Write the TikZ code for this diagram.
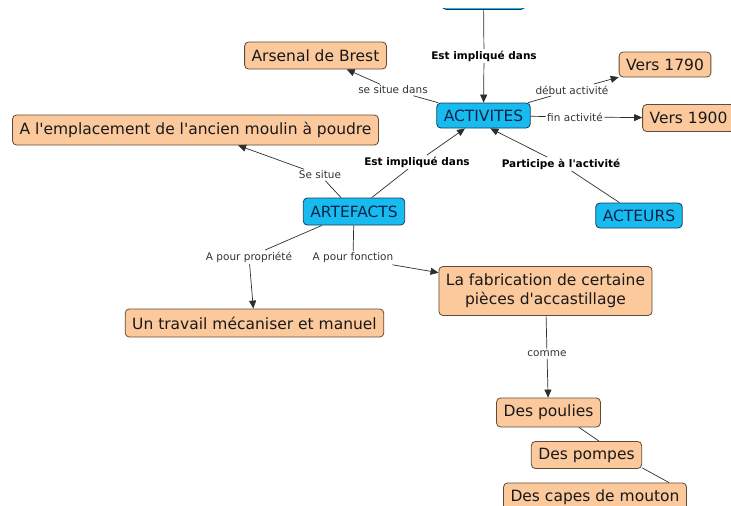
\documentclass[tikz,border=0pt]{standalone}
\usepackage{fontspec}
\setmainfont{DejaVu Sans}
\usetikzlibrary{arrows.meta, positioning}
\definecolor{peach}{RGB}{252,201,156}
\definecolor{peachedge}{RGB}{95,75,55}
\definecolor{sky}{RGB}{24,187,240}
\definecolor{skyedge}{RGB}{20,60,90}
\definecolor{navy}{RGB}{10,35,70}
\definecolor{linkgray}{RGB}{45,45,45}
\newcommand{\apos}{\textquotesingle}

\begin{document}
\begin{tikzpicture}[x=1pt, y=-1pt,
		  % Define the style of the concept boxes
		  concept/.style={rectangle, rounded corners=4pt, draw=peachedge, fill=peach, line width=0.8pt, inner xsep=7pt, minimum height=27pt, font=\fontsize{15.5}{19}\selectfont, text=black!90},
		  % Define the style of the main topics
		  topic/.style={concept, draw=skyedge, fill=sky, text=navy},
		  % Define the style of the link labels
		  link/.style={inner sep=1.5pt, font=\fontsize{10.5}{12}\selectfont, text=black!80},
		  boldlink/.style={link, font=\fontsize{10.5}{12}\selectfont\bfseries, text=black},
		  % Define the style of the connectors
		  connector/.style={line width=0.7pt, draw=linkgray},
		  arrow/.style={connector, -{Triangle[length=8pt,width=7pt]}}
		  ]
		  \useasboundingbox (0,0) rectangle (731,506);
		  \clip (0,0) rectangle (731,506);

		  % Concept cut off by the top edge
		  \begin{scope}
		    \clip (0,8) rectangle (731,40);
		    \node[topic, minimum width=83pt, minimum height=26pt, anchor=south] (upper) at (483.5,9.8) {};
		  \end{scope}

		  % Concept nodes
		  \node[concept] (arsenal) at (315.5,55.5) {Arsenal de Brest};
		  \node[topic, minimum height=25pt] (activites) at (483.5,115.5) {ACTIVITES};
		  \node[concept, minimum height=25pt] (v1790) at (665,64.5) {Vers 1790};
		  \node[concept] (v1900) at (688.5,118) {Vers 1900};
		  \node[concept, minimum height=30pt] (moulin) at (195.5,130) {A l\apos emplacement de l\apos ancien moulin à poudre};
		  \node[topic] (artefacts) at (354,211.5) {ARTEFACTS};
		  \node[topic, minimum height=25pt] (acteurs) at (639,215.5) {ACTEURS};
		  \node[concept, minimum height=28pt] (travail) at (254.5,323) {Un travail mécaniser et manuel};
		  \node[concept, align=center, minimum height=49pt] (fabrication) at (545.5,291) {La fabrication de certaine\\pièces d\apos accastillage};
		  \node[concept, minimum height=29pt] (poulies) at (548.5,412.5) {Des poulies};
		  \node[concept, minimum height=27pt] (pompes) at (586.5,455) {Des pompes};
		  \node[concept, minimum height=28pt] (capes) at (595,497) {Des capes de mouton};

		  % Link labels
		  \node[boldlink] (lblTop) at (484,56) {Est impliqué dans};
		  \node[link] (lblSituation) at (393,90) {se situe dans};
		  \node[link] (lblDebut) at (572,90) {début activité};
		  \node[link] (lblFin) at (575,117) {fin activité};
		  \node[link] (lblSeSitue) at (320,175) {Se situe};
		  \node[boldlink] (lblImpl) at (417,162) {Est impliqué dans};
		  \node[boldlink] (lblPart) at (561,164) {Participe à l\apos activité};
		  \node[link] (lblProp) at (249,257) {A pour propriété};
		  \node[link] (lblFonc) at (353,258) {A pour fonction};
		  \node[link] (lblComme) at (547,354) {comme};

		  % Connect the nodes through their labels
		  \foreach \from/\lbl/\to in {upper/lblTop/activites, activites/lblSituation/arsenal,
		      activites/lblDebut/v1790, activites/lblFin/v1900, artefacts/lblSeSitue/moulin,
		      artefacts/lblImpl/activites, acteurs/lblPart/activites.-62, artefacts/lblProp/travail,
		      artefacts/lblFonc/fabrication, fabrication/lblComme/poulies} {
		    \draw[connector] (\from) -- (\lbl);
		    \draw[arrow] (\lbl) -- (\to);
		  }
		  \draw[connector] (poulies.-26) -- (pompes.48);
		  \draw[connector] (pompes.-13) -- (capes.11);
		\end{tikzpicture}
\end{document}
